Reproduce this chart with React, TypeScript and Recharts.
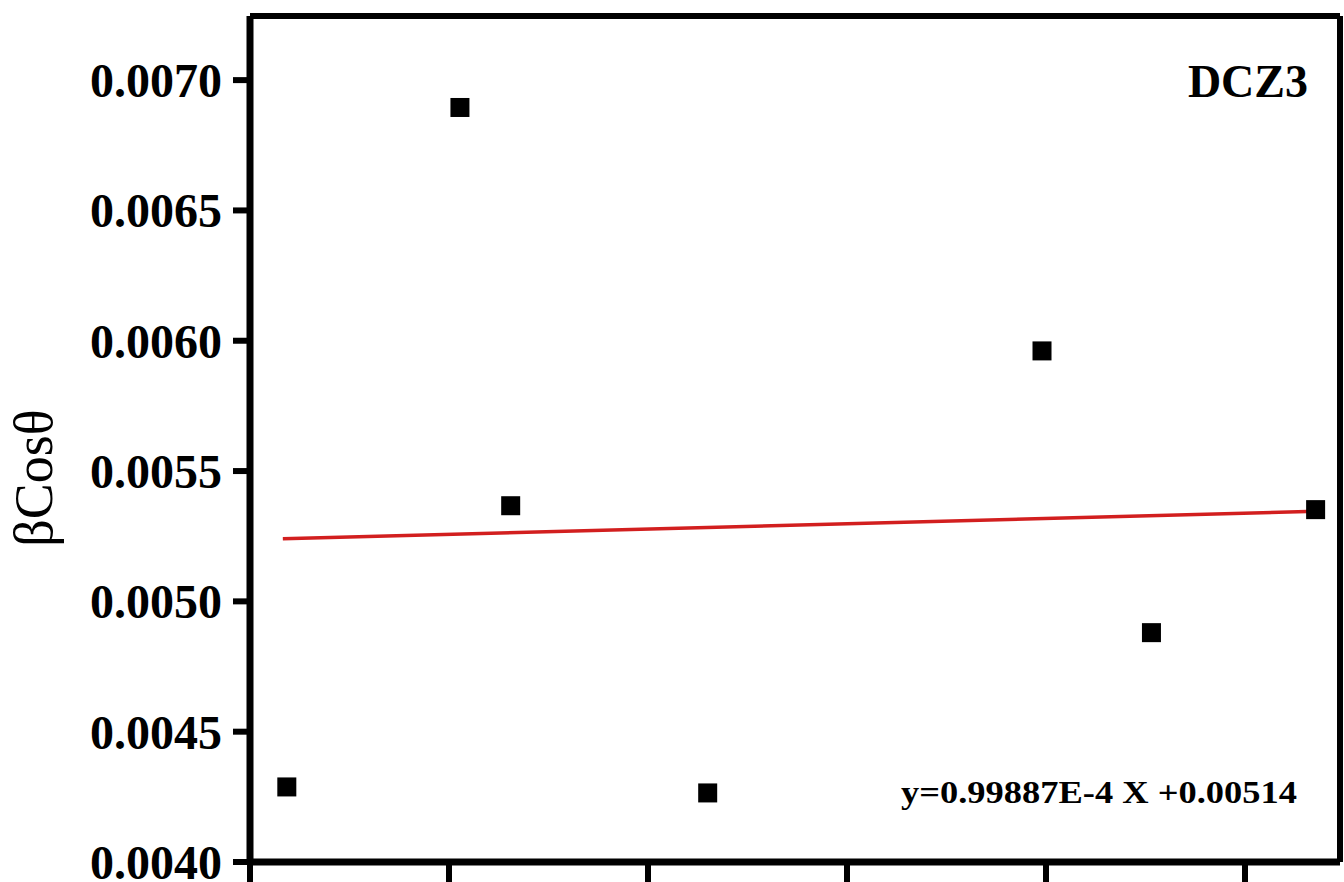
import { ScatterChart, Scatter, XAxis, YAxis, ReferenceLine } from "recharts"

// 4sinθ values (x) and βcosθ values (y)
const xValues = [1.037, 1.211, 1.262, 1.46, 1.796, 1.906, 2.071]
const yValues = [0.004288, 0.006895, 0.005367, 0.004265, 0.005961, 0.00488, 0.005352]

// linear fit end points
const fitX = [1.033, 2.072]
const fitY = [0.00524, 0.005346]

const xTicks = [1.0, 1.2, 1.4, 1.6, 1.8, 2.0]
const yTicks = [0.004, 0.0045, 0.005, 0.0055, 0.006, 0.0065, 0.007]

const X_MIN = 1.0
const X_MAX = 2.0955
const Y_MIN = 0.004
const Y_MAX = 0.007246

const points = xValues.map((x, i) => ({ x, y: yValues[i] }))
const fit = fitX.map((x, i) => ({ x, y: fitY[i] }))

const serif = "'Liberation Serif', 'Times New Roman', serif"

const Square = (props: any) => {
  const { cx, cy } = props
  if (cx == null || cy == null) return <g />
  return <rect x={cx - 9.5} y={cy - 9.5} width={19} height={19} fill="#000" />
}

export default function App() {
  return (
    <div style={{ position: "fixed", left: 0, top: 0, width: 1344, height: 882, overflow: "hidden", background: "#fff" }}>
      <ScatterChart width={1344} height={882} margin={{ top: 16, right: 4, bottom: 0, left: 0 }}>
        <XAxis
          type="number"
          dataKey="x"
          domain={[X_MIN, X_MAX]}
          ticks={xTicks}
          allowDataOverflow
          height={20}
          tickSize={20}
          tick={() => <g />}
          axisLine={{ stroke: "#000", strokeWidth: 7 }}
          tickLine={{ stroke: "#000", strokeWidth: 6 }}
        />
        <YAxis
          type="number"
          dataKey="y"
          domain={[Y_MIN, Y_MAX]}
          ticks={yTicks}
          interval={0}
          allowDataOverflow
          width={250}
          tickSize={17}
          tickMargin={11}
          tickFormatter={(v: number) => v.toFixed(4)}
          tick={{ fill: "#000", fontSize: 48, fontWeight: "bold", fontFamily: serif }}
          axisLine={{ stroke: "#000", strokeWidth: 7 }}
          tickLine={{ stroke: "#000", strokeWidth: 6 }}
        />
        <ReferenceLine y={Y_MAX} stroke="#000" strokeWidth={6} />
        <ReferenceLine x={X_MAX} stroke="#000" strokeWidth={6} />
        <Scatter
          data={fit}
          line={{ stroke: "#d21f1f", strokeWidth: 3.5 }}
          shape={() => <g />}
          isAnimationActive={false}
        />
        <Scatter data={points} shape={Square} isAnimationActive={false} />
        <text
          x={1308}
          y={97}
          textAnchor="end"
          fontFamily={serif}
          fontWeight="bold"
          fontSize={46}
          fill="#000"
        >
          DCZ3
        </text>
        <text
          x={901}
          y={803}
          fontFamily={serif}
          fontWeight="bold"
          fontSize={31}
          textLength={396}
          lengthAdjust="spacingAndGlyphs"
          fill="#000"
        >
          y=0.99887E-4 X +0.00514
        </text>
        <text
          x={52}
          y={478}
          transform="rotate(-90, 52, 478)"
          textAnchor="middle"
          fontFamily={serif}
          fontSize={54}
          fill="#000"
        >
          βCosθ
        </text>
      </ScatterChart>
    </div>
  )
}
